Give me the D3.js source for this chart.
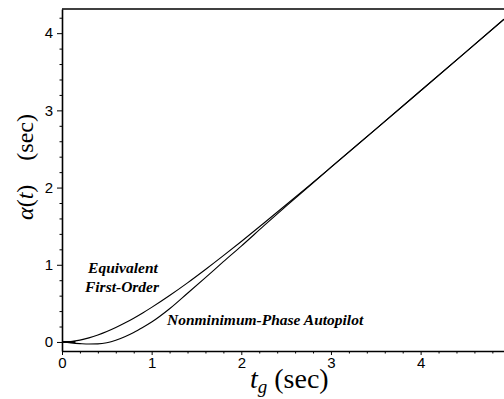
<!DOCTYPE html>
<html>
<head>
<meta charset="utf-8">
<script src="https://cdn.jsdelivr.net/npm/d3@7"></script>
<style>
  html, body { margin: 0; padding: 0; background: #fff; }
  svg { display: block; }
</style>
</head>
<body>
<svg id="chart" width="504" height="399"></svg>
<script>
// ---- data ----
const tValues = [0, 0.1, 0.2, 0.3, 0.4, 0.5, 0.6, 0.7, 0.8, 0.9, 1.0, 1.2, 1.4, 1.6, 1.8, 2.0, 2.25, 2.5, 2.75, 3.0, 3.5, 4.0, 4.5, 4.93];
const equivalentFirstOrder = [0, 0.006, 0.024, 0.053, 0.090, 0.135, 0.187, 0.245, 0.308, 0.376, 0.448, 0.602, 0.766, 0.939, 1.118, 1.302, 1.538, 1.777, 2.019, 2.264, 2.757, 3.254, 3.752, 4.181];
const nonminimumPhase      = [0, -0.012, -0.021, -0.027, -0.025, -0.010, 0.022, 0.068, 0.123, 0.188, 0.258, 0.430, 0.631, 0.834, 1.040, 1.242, 1.503, 1.759, 2.011, 2.261, 2.757, 3.254, 3.752, 4.181];
const xMajorTicks = [0, 1, 2, 3, 4];
const yMajorTicks = [0, 1, 2, 3, 4];
const xDomain = [0, 4.93];
const yDomain = [-0.117, 4.313];

// ---- layout ----
const svg = d3.select("#chart");
const mLeft = 62, mRight = 504, mTop = 9, mBottom = 351;

const x = d3.scaleLinear().domain(xDomain).range([mLeft, mRight]);
const y = d3.scaleLinear().domain(yDomain).range([mBottom, mTop]);

const xMinor = d3.range(0, 4.93, 0.2).map(v => +v.toFixed(2)).filter(v => !xMajorTicks.includes(v));
const yMinor = d3.range(0, 4.31, 0.2).map(v => +v.toFixed(2)).filter(v => !yMajorTicks.includes(v));

// top border
svg.append("line")
  .attr("x1", mLeft).attr("x2", mRight).attr("y1", mTop).attr("y2", mTop)
  .attr("stroke", "#000").attr("stroke-width", 1.6);

// x axis
const xAxis = svg.append("g").attr("transform", `translate(0,${mBottom})`)
  .call(d3.axisBottom(x).tickValues(xMajorTicks).tickFormat(d3.format("d")).tickSize(4).tickSizeOuter(0));
svg.append("g").attr("transform", `translate(0,${mBottom})`)
  .call(d3.axisBottom(x).tickValues(xMinor).tickFormat("").tickSize(2.5).tickSizeOuter(0))
  .select(".domain").remove();

// y axis
const yAxis = svg.append("g").attr("transform", `translate(${mLeft},0)`)
  .call(d3.axisLeft(y).tickValues(yMajorTicks).tickFormat(d3.format("d")).tickSize(5).tickSizeOuter(0));
svg.append("g").attr("transform", `translate(${mLeft},0)`)
  .call(d3.axisLeft(y).tickValues(yMinor).tickFormat("").tickSize(2.5).tickSizeOuter(0))
  .select(".domain").remove();

svg.selectAll(".domain").attr("stroke", "#000").attr("stroke-width", 1.6);
svg.selectAll(".tick line").attr("stroke", "#000").attr("stroke-width", 1);
svg.selectAll(".tick text")
  .attr("font-family", "'Liberation Sans', Arial, sans-serif")
  .attr("font-size", 15).attr("fill", "#000");
xAxis.selectAll(".tick text").attr("dy", "0.71em").attr("y", 6);
yAxis.selectAll(".tick text").attr("x", -9);

// curves
const line = d3.line().x(d => x(d[0])).y(d => y(d[1])).curve(d3.curveMonotoneX);
const seriesA = tValues.map((t, i) => [t, equivalentFirstOrder[i]]);
const seriesB = tValues.map((t, i) => [t, nonminimumPhase[i]]);

svg.append("path").datum(seriesA).attr("d", line)
  .attr("fill", "none").attr("stroke", "#000").attr("stroke-width", 1.1);
svg.append("path").datum(seriesB).attr("d", line)
  .attr("fill", "none").attr("stroke", "#000").attr("stroke-width", 1.1);

// thick start segment along zero
svg.append("line")
  .attr("x1", x(0)).attr("x2", x(0.15)).attr("y1", y(0)).attr("y2", y(0))
  .attr("stroke", "#000").attr("stroke-width", 2);

// annotations
const ann = svg.append("g")
  .attr("font-family", "'Liberation Serif', 'Times New Roman', serif")
  .attr("font-weight", "bold").attr("font-style", "italic")
  .attr("font-size", 15.5).attr("fill", "#000");
ann.append("text").attr("x", 123).attr("y", 272.5).attr("text-anchor", "middle").text("Equivalent");
ann.append("text").attr("x", 122).attr("y", 291.5).attr("text-anchor", "middle").text("First-Order");
ann.append("text").attr("x", 167).attr("y", 325).text("Nonminimum-Phase Autopilot");

// axis titles
const xt = svg.append("text")
  .attr("x", 250).attr("y", 388)
  .attr("font-family", "'Liberation Serif', 'Times New Roman', serif")
  .attr("font-size", 28).attr("fill", "#000");
xt.append("tspan").attr("font-style", "italic").text("t");
xt.append("tspan").attr("font-style", "italic").attr("font-size", 19).attr("dy", 5).text("g");
xt.append("tspan").attr("dy", -5).text(" (sec)");

const yt = svg.append("text")
  .attr("transform", "translate(33,167) rotate(-90)")
  .attr("text-anchor", "middle")
  .attr("font-family", "'Liberation Serif', 'Times New Roman', serif")
  .attr("font-size", 24).attr("fill", "#000");
yt.append("tspan").attr("font-style", "italic").text("α");
yt.append("tspan").text("(");
yt.append("tspan").attr("font-style", "italic").text("t");
yt.append("tspan").text(")\u2002\u2002(sec)");
</script>
</body>
</html>
